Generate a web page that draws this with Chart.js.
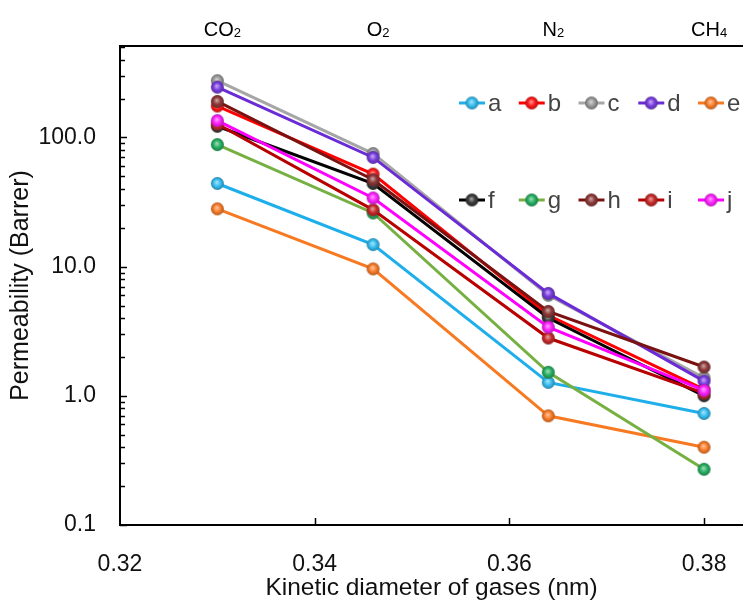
<!DOCTYPE html>
<html>
<head>
<meta charset="utf-8">
<script src="https://cdn.jsdelivr.net/npm/chart.js@4.4.1/dist/chart.umd.min.js"></script>
<style>
  html, body { margin: 0; padding: 0; background: #fff; overflow: hidden; }
  #wrap { width: 743px; height: 604px; }
</style>
</head>
<body>
<div id="wrap"><canvas id="permChart" width="743" height="604"></canvas></div>
<script>
// Gases and their kinetic diameters (nm)
const gases = ['CO2', 'O2', 'N2', 'CH4'];
const kineticDiameter = [0.330, 0.346, 0.364, 0.380];

// Permeability (Barrer) per membrane, in gas order
const seriesNames = ['a', 'b', 'c', 'd', 'e', 'f', 'g', 'h', 'i', 'j'];
const permA = [44, 14.8, 1.27, 0.73];
const permB = [175, 52, 4.2, 1.12];
const permC = [275, 75, 6.0, 1.38];
const permD = [245, 70, 6.2, 1.30];
const permE = [28, 9.6, 0.70, 0.40];
const permF = [122, 44, 4.0, 1.00];
const permG = [88, 26, 1.52, 0.27];
const permH = [190, 47, 4.5, 1.67];
const permI = [127, 27.5, 2.8, 1.05];
const permJ = [135, 34, 3.4, 1.10];
const allSeries = [permA, permB, permC, permD, permE, permF, permG, permH, permI, permJ];

// Axis ticks
const xTicks = [0.32, 0.34, 0.36, 0.38];
const yMajorTicks = [0.1, 1, 10, 100];

// line colour / marker colour
const lineColors = ['#1eaeea', '#ff0000', '#a6a6a6', '#6a2bd6', '#f77a22',
                    '#000000', '#76b043', '#7a1212', '#b80000', '#ff00ff'];
const markerColors = ['#36bdf0', '#ff1a1a', '#9a9a9a', '#7a3ee0', '#fb7d2a',
                      '#3a3a3a', '#27b062', '#8e3a3a', '#c62a2a', '#ff22ff'];

function mix(hex, target, t) {
  const a = [1, 3, 5].map(i => parseInt(hex.slice(i, i + 2), 16));
  const b = [1, 3, 5].map(i => parseInt(target.slice(i, i + 2), 16));
  const c = a.map((v, k) => Math.round(v + (b[k] - v) * t));
  return `rgb(${c[0]}, ${c[1]}, ${c[2]})`;
}

// shaded ball used as point marker
function ballSprite(color, r) {
  const s = r * 2 + 2;
  const c = document.createElement('canvas');
  c.width = c.height = s;
  const ctx = c.getContext('2d');
  const cx = s / 2, cy = s / 2;
  const g = ctx.createRadialGradient(cx - r * 0.1, cy - r * 0.2, 0, cx, cy, r);
  g.addColorStop(0, mix(color, '#ffffff', 0.6));
  g.addColorStop(0.55, color);
  g.addColorStop(1, mix(color, '#000000', 0.3));
  ctx.fillStyle = g;
  ctx.beginPath();
  ctx.arc(cx, cy, r, 0, Math.PI * 2);
  ctx.fill();
  return c;
}

const sprites = markerColors.map(c => ballSprite(c, 6.5));

const datasets = seriesNames.map((name, i) => ({
  label: name,
  data: kineticDiameter.map((x, k) => ({ x: x, y: allSeries[i][k] })),
  borderColor: lineColors[i],
  backgroundColor: markerColors[i],
  borderWidth: 3,
  tension: 0,
  pointStyle: sprites[i],
  pointRadius: 6.5,
  order: seriesNames.length - i
}));

const FONT = '"Liberation Sans", Arial, sans-serif';

// box top, inward ticks and gas names along the top
const framePlugin = {
  id: 'frame',
  afterDraw(chart) {
    const { ctx, chartArea, scales } = chart;
    const xs = scales.x, ys = scales.y;
    ctx.save();
    ctx.strokeStyle = '#000';
    ctx.lineWidth = 2;
    ctx.beginPath();
    ctx.moveTo(chartArea.left - 1, chartArea.top);
    ctx.lineTo(chartArea.right, chartArea.top);
    ctx.stroke();

    ctx.lineWidth = 1.5;
    ys.ticks.forEach(t => {
      const y = Math.round(ys.getPixelForValue(t.value)) + 0.5;
      const len = yMajorTicks.includes(t.value) ? 7 : 5;
      ctx.beginPath();
      ctx.moveTo(chartArea.left, y);
      ctx.lineTo(chartArea.left + len, y);
      ctx.stroke();
    });
    xTicks.slice(1).forEach(v => {
      const x = Math.round(xs.getPixelForValue(v)) + 0.5;
      ctx.beginPath();
      ctx.moveTo(x, chartArea.bottom);
      ctx.lineTo(x, chartArea.bottom - 7);
      ctx.stroke();
    });

    // gas labels with subscripted digits
    ctx.fillStyle = '#000';
    ctx.textBaseline = 'alphabetic';
    gases.forEach((gas, i) => {
      const m = gas.match(/^(\D+)(\d*)$/);
      const base = m[1], sub = m[2];
      ctx.font = `20px ${FONT}`;
      const wb = ctx.measureText(base).width;
      ctx.font = `13px ${FONT}`;
      const ws = ctx.measureText(sub).width;
      const x0 = xs.getPixelForValue(kineticDiameter[i]) + 5 - (wb + ws) / 2;
      ctx.font = `20px ${FONT}`;
      ctx.textAlign = 'left';
      ctx.fillText(base, x0, 36);
      ctx.font = `13px ${FONT}`;
      ctx.fillText(sub, x0 + wb, 37);
    });
    ctx.restore();
  }
};

// two-row legend inside the plot
const legendPlugin = {
  id: 'insideLegend',
  afterDraw(chart) {
    const { ctx } = chart;
    const left = 459, colStep = 59.75, rows = [103, 200];
    ctx.save();
    ctx.font = `24px ${FONT}`;
    ctx.textBaseline = 'middle';
    ctx.textAlign = 'left';
    seriesNames.forEach((name, i) => {
      const x = left + colStep * (i % 5);
      const y = rows[Math.floor(i / 5)];
      ctx.strokeStyle = lineColors[i];
      ctx.lineWidth = 3;
      ctx.beginPath();
      ctx.moveTo(x, y);
      ctx.lineTo(x + 26, y);
      ctx.stroke();
      const sp = sprites[i];
      ctx.drawImage(sp, x + 13 - sp.width / 2, y - sp.height / 2);
      ctx.fillStyle = '#444';
      ctx.fillText(name, x + 29, y + 1);
    });
    ctx.restore();
  }
};

new Chart(document.getElementById('permChart'), {
  type: 'line',
  data: { datasets: datasets },
  options: {
    responsive: false,
    animation: false,
    events: [],
    layout: { padding: 0, autoPadding: false },
    plugins: {
      legend: { display: false },
      tooltip: { enabled: false }
    },
    scales: {
      x: {
        type: 'linear',
        position: 'bottom',
        min: 0.32,
        max: 0.384,
        grid: { display: false, drawTicks: false },
        border: { display: true, color: '#000', width: 2 },
        afterBuildTicks: scale => { scale.ticks = xTicks.map(v => ({ value: v })); },
        afterFit: scale => {
          scale.height = 79;
          scale.paddingLeft = 0;
          scale.paddingRight = 0;
        },
        ticks: {
          autoSkip: false,
          maxRotation: 0,
          padding: 26,
          color: '#111',
          font: { family: FONT, size: 23 },
          callback: v => v.toFixed(2)
        },
        title: {
          display: true,
          text: 'Kinetic diameter of gases (nm)',
          color: '#111',
          font: { family: FONT, size: 24.5 },
          padding: { top: 0, bottom: 1 }
        }
      },
      // empty band above the plot that holds the gas names
      xTop: {
        type: 'linear',
        position: 'top',
        min: 0.32,
        max: 0.384,
        grid: { display: false, drawTicks: false },
        border: { display: false },
        ticks: { display: false },
        afterFit: scale => {
          scale.height = 46;
          scale.paddingLeft = 0;
          scale.paddingRight = 0;
        }
      },
      y: {
        type: 'logarithmic',
        min: 0.1,
        max: 510,
        grid: { display: false, drawTicks: false },
        border: { display: true, color: '#000', width: 2 },
        afterBuildTicks: scale => {
          const t = [];
          yMajorTicks.forEach(m => {
            for (let k = 1; k <= 9; k++) {
              const v = +(m * k).toPrecision(3);
              if (v <= scale.max) t.push({ value: v, major: k === 1 });
            }
          });
          scale.ticks = t;
        },
        afterFit: scale => {
          scale.width = 120;
          scale.paddingTop = 0;
          scale.paddingBottom = 0;
        },
        ticks: {
          autoSkip: false,
          padding: 24,
          color: '#111',
          font: { family: FONT, size: 23 },
          callback: v => yMajorTicks.includes(v) ? v.toFixed(1) : ''
        },
        title: {
          display: true,
          text: 'Permeability (Barrer)',
          color: '#111',
          font: { family: FONT, size: 25 },
          padding: { top: 6, bottom: 0 }
        }
      }
    }
  },
  plugins: [framePlugin, legendPlugin]
});
</script>
</body>
</html>
